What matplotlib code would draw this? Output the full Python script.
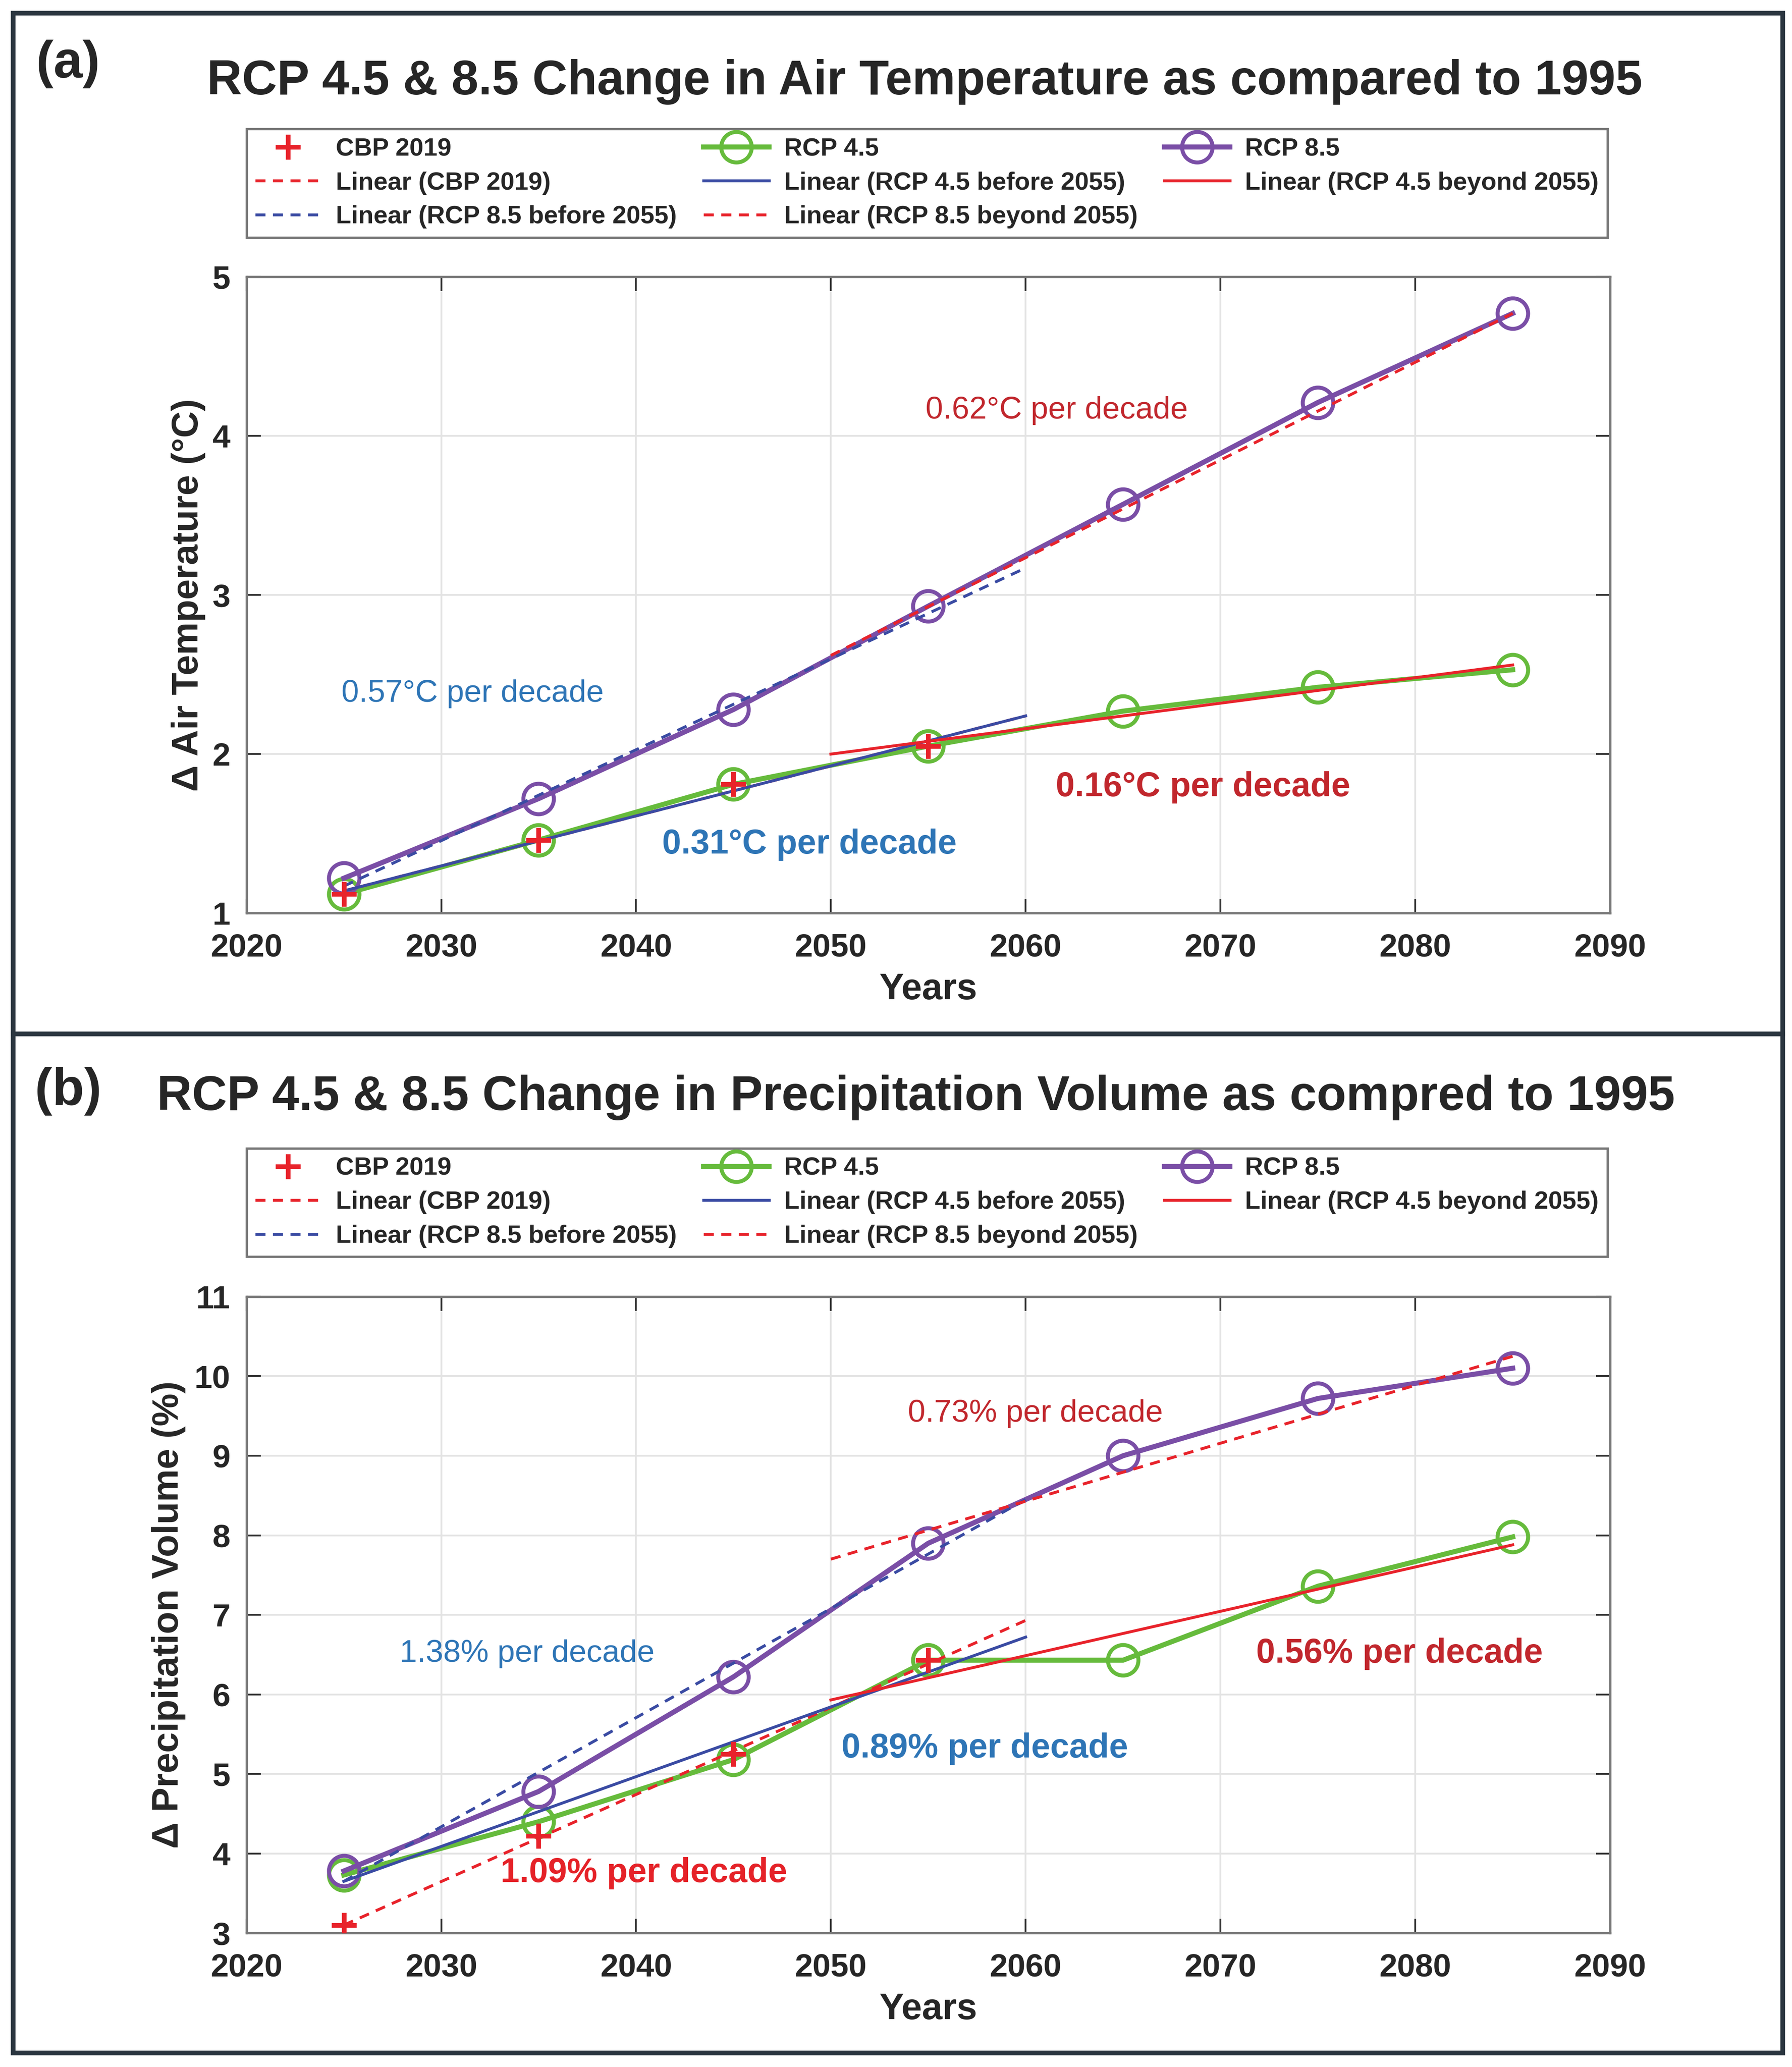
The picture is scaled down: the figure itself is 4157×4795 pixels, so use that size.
import matplotlib
matplotlib.use("Agg")
import matplotlib.pyplot as plt
from matplotlib.patches import Rectangle

plt.rcParams['font.family'] = ['Liberation Sans', 'DejaVu Sans']

# ---------------- data ----------------
years = [2025, 2035, 2045, 2055, 2065, 2075, 2085]
cbp_years = [2025, 2035, 2045, 2055]

# Panel (a): change in air temperature (degC)
temp_rcp45 = [1.12, 1.46, 1.81, 2.05, 2.27, 2.42, 2.53]
temp_rcp85 = [1.22, 1.72, 2.28, 2.93, 3.57, 4.21, 4.77]
temp_cbp = [1.12, 1.46, 1.81, 2.05]
fit_x_before = [2025, 2060]
fit_x_beyond = [2050, 2085]
temp_lin_cbp = [1.14, 2.24]
temp_lin45_before = [1.14, 2.24]
temp_lin45_beyond = [2.00, 2.56]
temp_lin85_before = [1.17, 3.17]
temp_lin85_beyond = [2.62, 4.77]

# Panel (b): change in precipitation volume (%)
prec_rcp45 = [3.73, 4.40, 5.18, 6.43, 6.43, 7.36, 7.98]
prec_rcp85 = [3.78, 4.78, 6.22, 7.90, 9.00, 9.72, 10.10]
prec_cbp = [3.10, 4.22, 5.25, 6.43]
prec_lin_cbp = [3.10, 6.93]
prec_lin45_before = [3.65, 6.72]
prec_lin45_beyond = [5.93, 7.88]
prec_lin85_before = [3.65, 8.45]
prec_lin85_beyond = [7.70, 10.25]

legend_labels = ['CBP 2019', 'RCP 4.5', 'RCP 8.5', 'Linear (CBP 2019)',
                 'Linear (RCP 4.5 before 2055)', 'Linear (RCP 4.5 beyond 2055)',
                 'Linear (RCP 8.5 before 2055)', 'Linear (RCP 8.5 beyond 2055)']

# ---------------- styles ----------------
GREEN = '#66bb3c'
PURPLE = '#7a4ea6'
RED = '#e8232b'
BLUE = '#3a4ba3'
TXT_RED = '#c1272d'
TXT_RED2 = '#e52228'
TXT_BLUE = '#2e75b6'
FRAME = '#2b3640'
DARK = '#262626'
DASH = (3.5, 2.6)

fig = plt.figure(figsize=(4157 / 300, 4795 / 300), dpi=300)

# outer panel frames
for (y0, y1) in [(0.5, 0.9937), (0.0069, 0.5)]:
    fig.patches.append(Rectangle((0.0072, y0), 0.9875, y1 - y0, transform=fig.transFigure,
                                 fill=False, edgecolor=FRAME, linewidth=2.6, zorder=0))


def draw_panel(ax_rect, leg_rect, yvals45, yvals85, ycbp, lin_cbp, l45b, l45a, l85b, l85a,
               ylim, yticks, ylabel, ylab_x):
    ax = fig.add_axes(ax_rect)
    ax.set_xlim(2020, 2090)
    ax.set_ylim(*ylim)
    ax.set_xticks(range(2020, 2091, 10))
    ax.set_yticks(yticks)
    ax.grid(True, color='#e3e3e3', linewidth=1.0)
    ax.set_axisbelow(True)
    for sp in ax.spines.values():
        sp.set_color('#7a7a7a')
        sp.set_linewidth(1.3)
    ax.tick_params(direction='in', length=8, width=1.0, color='#303030',
                   top=True, right=True, labelsize=18, labelcolor=DARK)
    ax.tick_params(axis='x', pad=11)
    ax.tick_params(axis='y', pad=9)
    for lab in ax.get_xticklabels() + ax.get_yticklabels():
        lab.set_fontweight('bold')
    ax.set_xlabel('Years', fontsize=20.5, fontweight='bold', color=DARK, va='center')
    ax.set_ylabel(ylabel, fontsize=20.5, fontweight='bold', color=DARK, va='center')
    ax.xaxis.set_label_coords(0.5, -0.1206)
    ax.yaxis.set_label_coords(ylab_x, 0.5)

    h_cbp, = ax.plot(cbp_years, ycbp, linestyle='none', marker='+', markersize=14,
                     markeredgewidth=2.6, color=RED, zorder=6)
    h45, = ax.plot(years, yvals45, '-o', color=GREEN, linewidth=2.8, markersize=17,
                   markerfacecolor='none', markeredgewidth=2.2, zorder=3)
    h85, = ax.plot(years, yvals85, '-o', color=PURPLE, linewidth=2.8, markersize=17,
                   markerfacecolor='none', markeredgewidth=2.2, zorder=3)
    hlc, = ax.plot(fit_x_before, lin_cbp, linestyle=(0, DASH), color=RED,
                   linewidth=1.6, zorder=4)
    hl45b, = ax.plot(fit_x_before, l45b, '-', color=BLUE, linewidth=1.6, zorder=4)
    hl45a, = ax.plot(fit_x_beyond, l45a, '-', color=RED, linewidth=1.6, zorder=4)
    hl85b, = ax.plot(fit_x_before, l85b, linestyle=(0, DASH), color=BLUE,
                     linewidth=1.6, zorder=4)
    hl85a, = ax.plot(fit_x_beyond, l85a, linestyle=(0, DASH), color=RED,
                     linewidth=1.6, zorder=4)

    handles = [h_cbp, h45, h85, hlc, hl45b, hl45a, hl85b, hl85a]
    # row-major reading order with 3 columns (matplotlib fills column-major)
    order = [0, 3, 6, 1, 4, 7, 2, 5]
    leg = fig.legend([handles[i] for i in order], [legend_labels[i] for i in order],
                     ncol=3, loc='center', bbox_to_anchor=leg_rect, mode='expand',
                     bbox_transform=fig.transFigure, fontsize=14, frameon=True,
                     fancybox=False, edgecolor='#555555', handlelength=2.6,
                     handletextpad=0.6, columnspacing=1.0, borderpad=0.35,
                     labelspacing=0.42, borderaxespad=0.0)
    leg.get_frame().set_linewidth(1.3)
    for t in leg.get_texts():
        t.set_fontweight('bold')
        t.set_color(DARK)
    return ax


# ---------------- panel (a) ----------------
axa = draw_panel([0.1375, 0.5582, 0.761, 0.3079], (0.1375, 0.8853, 0.7595, 0.0522),
                 temp_rcp45, temp_rcp85, temp_cbp, temp_lin_cbp, temp_lin45_before,
                 temp_lin45_beyond, temp_lin85_before, temp_lin85_beyond,
                 (1, 5), [1, 2, 3, 4, 5], 'Δ Air Temperature (°C)', -0.0426)
axa.text(2061.6, 4.16, '0.62°C per decade', color=TXT_RED, fontsize=17.5, ha='center', va='center')
axa.text(2031.6, 2.38, '0.57°C per decade', color=TXT_BLUE, fontsize=17.5, ha='center', va='center')
axa.text(2069.1, 1.79, '0.16°C per decade', color=TXT_RED, fontsize=19, fontweight='bold',
         ha='center', va='center')
axa.text(2048.9, 1.43, '0.31°C per decade', color=TXT_BLUE, fontsize=19, fontweight='bold',
         ha='center', va='center')

fig.text(0.516, 0.9604, 'RCP 4.5 & 8.5 Change in Air Temperature as compared to 1995',
         fontsize=27, fontweight='bold', color=DARK, ha='center', va='center')
fig.text(0.038, 0.969, '(a)', fontsize=29, fontweight='bold', color=DARK,
         ha='center', va='center')

# ---------------- panel (b) ----------------
axb = draw_panel([0.1375, 0.0648, 0.761, 0.3079], (0.1375, 0.3925, 0.7595, 0.0515),
                 prec_rcp45, prec_rcp85, prec_cbp, prec_lin_cbp, prec_lin45_before,
                 prec_lin45_beyond, prec_lin85_before, prec_lin85_beyond,
                 (3, 11), list(range(3, 12)), 'Δ Precipitation Volume (%)', -0.057)
axb.text(2060.5, 9.53, '0.73% per decade', color=TXT_RED, fontsize=17.5, ha='center', va='center')
axb.text(2034.4, 6.51, '1.38% per decade', color=TXT_BLUE, fontsize=17.5, ha='center', va='center')
axb.text(2079.2, 6.51, '0.56% per decade', color=TXT_RED, fontsize=19, fontweight='bold',
         ha='center', va='center')
axb.text(2057.9, 5.32, '0.89% per decade', color=TXT_BLUE, fontsize=19, fontweight='bold',
         ha='center', va='center')
axb.text(2040.4, 3.75, '1.09% per decade', color=TXT_RED2, fontsize=19, fontweight='bold',
         ha='center', va='center')

fig.text(0.511, 0.469, 'RCP 4.5 & 8.5 Change in Precipitation Volume as compred to 1995',
         fontsize=27, fontweight='bold', color=DARK, ha='center', va='center')
fig.text(0.038, 0.472, '(b)', fontsize=29, fontweight='bold', color=DARK,
         ha='center', va='center')

fig.savefig('out.png', dpi=300, facecolor='white')
